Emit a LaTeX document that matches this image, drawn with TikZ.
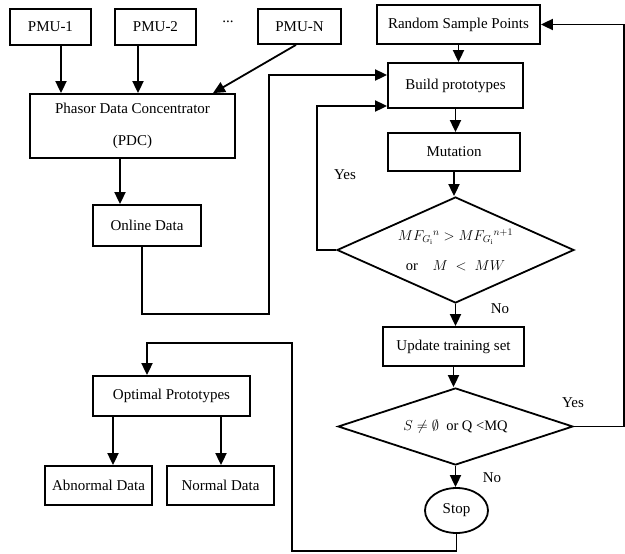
\documentclass[tikz,border=0pt]{standalone}
\usepackage{fontspec}
\setmainfont{Liberation Serif}
\usetikzlibrary{shapes.geometric,arrows.meta}
\begin{document}
\begin{tikzpicture}[x=1pt,y=-1pt,
  txt/.style={font=\fontsize{15}{18}\selectfont},
  box/.style={draw, line width=1.8pt, inner sep=0pt, txt},
  conn/.style={line width=1.8pt},
  arr/.style={conn, -{Triangle[length=12pt,width=11pt]}},
  dia/.style={draw, diamond, line width=1.8pt, inner sep=0pt, font=\fontsize{14.5}{17}\selectfont, align=center},
  oval/.style={draw, ellipse, line width=1.8pt, inner sep=0pt, txt}]
\useasboundingbox (0,0) rectangle (625,554);
% nodes
\node[box, minimum width=81pt, minimum height=36pt] (pmu1) at (50.5,27) {PMU-1};
\node[box, minimum width=81pt, minimum height=36pt] (pmu2) at (155.5,27) {PMU-2};
\node[txt] (dots) at (228,22) {...};
\node[box, minimum width=83pt, minimum height=35pt] (pmuN) at (299.5,26.5) {PMU-N};
\node[box, minimum width=205pt, minimum height=64pt, align=center] (pdc) at (132.5,126) {Phasor Data Concentrator\\[14pt](PDC)};
\node[box, minimum width=108pt, minimum height=41pt] (online) at (147,225.5) {Online Data};
\node[box, minimum width=163pt, minimum height=39pt] (rsp) at (458.5,24.5) {Random Sample Points};
\node[box, minimum width=135pt, minimum height=45pt] (build) at (455.5,85.5) {Build prototypes};
\node[box, minimum width=132pt, minimum height=38pt] (mut) at (454,152) {Mutation};
\node[dia, shape aspect=2.4, minimum width=237pt, minimum height=106pt] (d1) at (455.5,250)
  {$MF_{G_{\mathrm{i}}}{}^{n} > MF_{G_{\mathrm{i}}}{}^{n+1}$\\[13pt]or\quad$M\;<\;MW$};
\node[box, minimum width=141pt, minimum height=39pt] (upd) at (453.5,346.5) {Update training set};
\node[dia, shape aspect=3.05, minimum width=235pt, minimum height=77pt] (d2) at (455.5,426.5)
  {$S \neq \emptyset$\ \ or Q <MQ};
\node[oval, minimum width=63pt, minimum height=45pt] (stop) at (456.5,510.5) {Stop};
\node[box, minimum width=157pt, minimum height=40pt] (opt) at (171.5,396) {Optimal Prototypes};
\node[box, minimum width=107pt, minimum height=39pt] (abn) at (98.5,485.5) {Abnormal Data};
\node[box, minimum width=107pt, minimum height=39pt] (norm) at (220.5,485.5) {Normal Data};
% labels
\node[txt] (yes1) at (345,175) {Yes};
\node[txt] (no1) at (500,309) {No};
\node[txt] (yes2) at (573,403) {Yes};
\node[txt] (no2) at (492,478) {No};
% helper coordinates
\coordinate (p1) at ([xshift=10.5pt]pmu1.south);
\coordinate (p2) at ([xshift=-17.5pt]pmu2.south);
\coordinate (pN) at ([xshift=-3.5pt]pmuN.south);
\coordinate (pdcin) at ([xshift=80.5pt]pdc.north);
\coordinate (pdcout) at ([xshift=-12.5pt]pdc.south);
\coordinate (o1) at ([xshift=-5pt]online.south);
\coordinate (b1) at ([yshift=10.5pt]build.west);
\coordinate (b2) at ([yshift=-20.5pt]build.west);
\coordinate (oin) at ([xshift=-24.5pt]opt.north);
\coordinate (oa) at ([xshift=-58.5pt]opt.south);
\coordinate (on) at ([xshift=49.5pt]opt.south);
% connectors
\draw[arr] (p1) -- (p1 |- pdc.north);
\draw[arr] (p2) -- (p2 |- pdc.north);
\draw[arr] (pN) -- (pdcin);
\draw[arr] (pdcout) -- (pdcout |- online.north);
\draw[arr] (o1) |- (269,314) |- (b1);
\draw[arr] (d1.west) -- ++(-19,0) |- (b2);
\draw[arr] (rsp.south) -- (rsp.south |- build.north);
\draw[arr] (build.south) -- (build.south |- mut.north);
\draw[arr] (mut.south) -- (mut.south |- d1.north);
\draw[arr] (d1.south) -- (d1.south |- upd.north);
\draw[arr] (upd.south) -- (upd.south |- d2.north);
\draw[arr] (d2.south) -- (d2.south |- stop.north);
\draw[arr] (d2.east) -| (624,24.5) -- (rsp.east);
\draw[arr] (stop.south) |- (292,551) -- (292,343) -| (oin);
\draw[arr] (oa) -- (oa |- abn.north);
\draw[arr] (on) -- (on |- norm.north);
\end{tikzpicture}
\end{document}
